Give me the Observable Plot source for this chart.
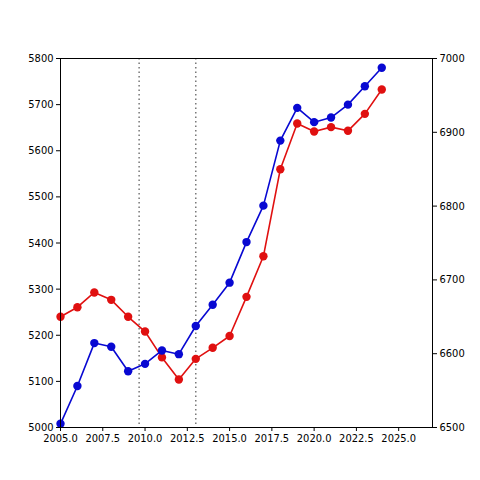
<!DOCTYPE html>
<html>
<head>
<meta charset="utf-8">
<script src="https://cdn.jsdelivr.net/npm/d3@7"></script>
<script src="https://cdn.jsdelivr.net/npm/@observablehq/plot@0.6"></script>
<style>
  html, body { margin: 0; padding: 0; background: #fff; }
  #chart svg { font-family: "DejaVu Sans Condensed", "DejaVu Sans", sans-serif; font-stretch: condensed; }
</style>
</head>
<body>
<div id="chart"></div>
<script>
const years = [2005, 2006, 2007, 2008, 2009, 2010, 2011, 2012, 2013, 2014,
               2015, 2016, 2017, 2018, 2019, 2020, 2021, 2022, 2023, 2024];
// left axis series (blue)
const blueValues = [5008, 5090, 5183, 5175, 5122, 5138, 5167, 5159, 5220, 5266,
                    5314, 5402, 5481, 5622, 5693, 5662, 5672, 5700, 5740, 5780];
// right axis series (red)
const redValues = [6650, 6663, 6683, 6673, 6650, 6630, 6595, 6565, 6593, 6608,
                   6624, 6677, 6732, 6850, 6912, 6901, 6907, 6902, 6925, 6958];
const verticalLines = [2009.65, 2013];
const xTicks = [2005, 2007.5, 2010, 2012.5, 2015, 2017.5, 2020, 2022.5, 2025];
const leftTicks = [5000, 5100, 5200, 5300, 5400, 5500, 5600, 5700, 5800];
const rightTicks = [6500, 6600, 6700, 6800, 6900, 7000];

const leftDomain = [5000, 5800];
const rightDomain = [6500, 7000];
const toLeft = v => leftDomain[0] + (v - rightDomain[0]) * (leftDomain[1] - leftDomain[0]) / (rightDomain[1] - rightDomain[0]);
const toRight = v => rightDomain[0] + (v - leftDomain[0]) * (rightDomain[1] - rightDomain[0]) / (leftDomain[1] - leftDomain[0]);

const blue = years.map((y, i) => ({year: y, v: blueValues[i]}));
const red = years.map((y, i) => ({year: y, v: toLeft(redValues[i])}));

const BLUE = "#0808d2";
const RED = "#e01010";

const chart = Plot.plot({
  width: 480,
  height: 480,
  marginLeft: 60,
  marginRight: 48,
  marginTop: 58,
  marginBottom: 53,
  style: {fontSize: "11px", background: "#fff", color: "#000"},
  x: {domain: [2005, 2027]},
  y: {domain: leftDomain},
  marks: [
    Plot.ruleX(verticalLines, {stroke: "#777", strokeWidth: 1.5, strokeDasharray: "1.5,3"}),
    Plot.line(red, {x: "year", y: "v", stroke: RED, strokeWidth: 1.6}),
    Plot.dot(red, {x: "year", y: "v", fill: RED, r: 4.2}),
    Plot.line(blue, {x: "year", y: "v", stroke: BLUE, strokeWidth: 1.6}),
    Plot.dot(blue, {x: "year", y: "v", fill: BLUE, r: 4.2}),
    Plot.frame({stroke: "#000", strokeWidth: 1}),
    Plot.axisX(xTicks, {tickSize: 4, tickPadding: 3, tickFormat: d => d.toFixed(1), label: null, fontSize: 11}),
    Plot.axisY(leftTicks, {anchor: "left", tickSize: 4, tickPadding: 3, label: null, tickFormat: d => String(d), fontSize: 11}),
    Plot.axisY(rightTicks.map(toLeft), {anchor: "right", tickSize: 4, tickPadding: 3, label: null, tickFormat: d => String(Math.round(toRight(d))), fontSize: 11})
  ]
});
document.getElementById("chart").appendChild(chart);
</script>
</body>
</html>
